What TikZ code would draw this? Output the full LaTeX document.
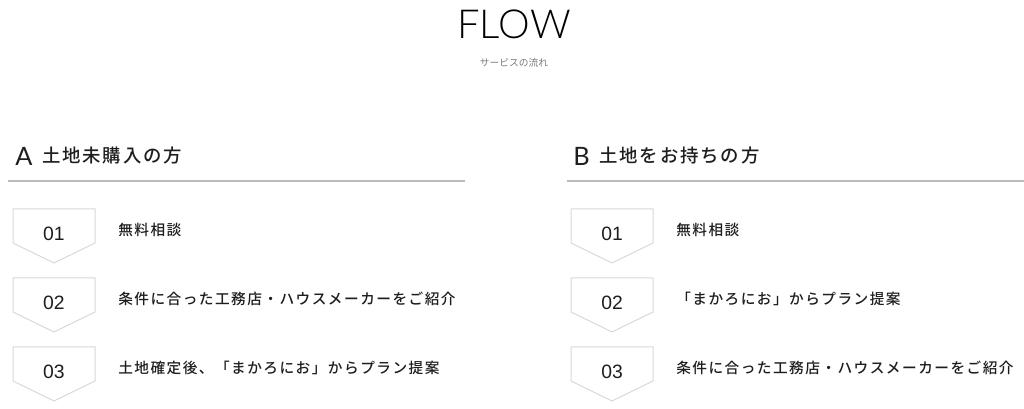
\documentclass[tikz,border=0pt]{standalone}
\usepackage{fontspec}
\setmainfont{Noto Sans CJK JP}
\newfontfamily\latolight{Lato Light}
\newfontfamily\lato{Lato}
\newfontfamily\numfont{Liberation Sans}
\newfontfamily\jpwide[LetterSpace=10]{Noto Sans CJK JP Medium}
\usetikzlibrary{positioning}
\definecolor{boxgray}{HTML}{D9D9D9}
\definecolor{rulegray}{HTML}{BBBBBB}
\definecolor{subgray}{HTML}{7A7A7A}
\definecolor{inkgray}{HTML}{1E1E1E}

\begin{document}
\begin{tikzpicture}[x=0.75pt,y=-0.75pt,
  stepbox/.style={draw=boxgray,fill=white,line width=0.75pt},
  stepnum/.style={inner sep=0pt,text=inkgray,font=\numfont\fontsize{14.5}{16}\selectfont},
  steptext/.style={anchor=west,inner sep=0pt,text=inkgray,font=\jpwide\fontsize{11}{13}\selectfont},
  headmark/.style={anchor=west,inner sep=0pt,text=inkgray,font=\lato\fontsize{19}{21}\selectfont},
  headtext/.style={anchor=west,inner sep=0pt,text=inkgray,font=\jpwide\fontsize{13.8}{15}\selectfont},
  headrule/.style={draw=rulegray,line width=0.9pt}]
\useasboundingbox (0,0) rectangle (1024,409);

\node[inner sep=0pt,font=\latolight\fontsize{30}{32}\selectfont]	(flow)	at (514,24.5)	{FLOW};
\node[inner sep=0pt,text=subgray,font=\fontsize{7.3}{9}\selectfont]	(flowsub)	[below=14pt of flow]	{サービスの流れ};

\node[headmark]	(amark)	at (15,156)	{A};
\node[headtext]	(ahead)	[right=7pt of amark.east,anchor=west]	{土地未購入の方};
\node[headmark]	(bmark)	at (573,156)	{B};
\node[headtext]	(bhead)	[right=7pt of bmark.east,anchor=west]	{土地をお持ちの方};
\draw[headrule] (8,181) -- (465,181);
\draw[headrule] (567,181) -- (1024,181);

\foreach \col/\cx in {a/54,b/612}
  \foreach \i/\ty in {1/209,2/278,3/347}{
    \draw[stepbox] (\cx-41,\ty) -- (\cx+41,\ty) -- (\cx+41,\ty+34) -- (\cx,\ty+54) -- (\cx-41,\ty+34) -- cycle;
    \node[stepnum] (\col num\i) at (\cx,\ty+25) {0\i};
  }

\node[steptext]	(atext1)	at (118,229.5)	{無料相談};
\node[steptext]	(atext2)	at (118,298.5)	{条件に合った工務店・ハウスメーカーをご紹介};
\node[steptext]	(atext3)	at (118,367.5)	{土地確定後、「まかろにお」からプラン提案};
\node[steptext]	(btext1)	at (676,229.5)	{無料相談};
\node[steptext]	(btext2)	at (676,298.5)	{「まかろにお」からプラン提案};
\node[steptext]	(btext3)	at (676,367.5)	{条件に合った工務店・ハウスメーカーをご紹介};
\end{tikzpicture}
\end{document}
